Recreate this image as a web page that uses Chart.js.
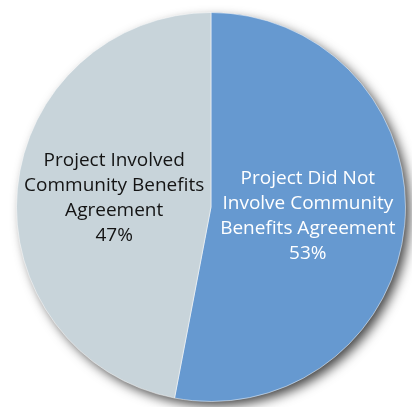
<!DOCTYPE html>
<html>
<head>
<meta charset="utf-8">
<script src="https://cdn.jsdelivr.net/npm/chart.js@4/dist/chart.umd.min.js"></script>
<style>
  html, body { margin: 0; padding: 0; background: #fff; }
  #wrap { width: 412px; height: 407px; }
</style>
</head>
<body>
<div id="wrap"><canvas id="mycanvas" width="412" height="407"></canvas></div>
<script>
// slice values and their wrapped label lines
var categories = ["Project Did Not Involve Community Benefits Agreement", "Project Involved Community Benefits Agreement"];
var shares = [53, 47];
var labelLines = [
	["Project Did Not", "Involve Community", "Benefits Agreement"],
	["Project Involved", "Community Benefits", "Agreement"]
];
var sliceColors = ["#6699d0", "#c8d4da"];
var textColors = ["#ffffff", "#141414"];

// soft drop shadow under the whole pie
var pieShadow = {
	id: 'pieShadow',
	beforeDatasetsDraw: function(chart) {
		var arc = chart.getDatasetMeta(0).data[0];
		if (!arc) return;
		var ctx = chart.ctx;
		ctx.save();
		ctx.shadowColor = "rgba(0,0,0,0.75)";
		ctx.shadowBlur = 12;
		ctx.shadowOffsetX = 5;
		ctx.shadowOffsetY = 5;
		ctx.fillStyle = sliceColors[1];
		ctx.beginPath();
		ctx.arc(arc.x, arc.y, arc.outerRadius - 1, 0, Math.PI * 2);
		ctx.fill();
		ctx.restore();
	}
};

// text block in the middle of each slice
var sliceLabels = {
	id: 'sliceLabels',
	afterDatasetsDraw: function(chart) {
		var ctx = chart.ctx;
		var meta = chart.getDatasetMeta(0);
		var lineH = 25;
		ctx.save();
		ctx.font = "19px 'Open Sans'";
		ctx.textAlign = "center";
		ctx.textBaseline = "middle";
		meta.data.forEach(function(arc, i) {
			var p = arc.getCenterPoint();
			var lines = labelLines[i].concat([shares[i] + "%"]);
			var y0 = p.y - (lines.length - 1) * lineH / 2;
			ctx.fillStyle = textColors[i];
			for (var j = 0; j < lines.length; j++) {
				ctx.fillText(lines[j], p.x, y0 + j * lineH);
			}
		});
		ctx.restore();
	}
};

var ctx = document.getElementById("mycanvas");

var PieGraph = new Chart(ctx, {
	type: 'pie',
	data: {
		labels: categories,
		datasets: [{
			data: shares,
			backgroundColor: sliceColors,
			borderColor: "rgba(255,255,255,0.5)",
			borderWidth: 1
		}]
	},
	options: {
		responsive: false,
		animation: false,
		layout: { padding: { left: 16, right: 6, top: 12, bottom: 5 } },
		plugins: {
			legend: { display: false },
			tooltip: { enabled: false }
		}
	},
	plugins: [pieShadow, sliceLabels]
});
</script>
</body>
</html>
